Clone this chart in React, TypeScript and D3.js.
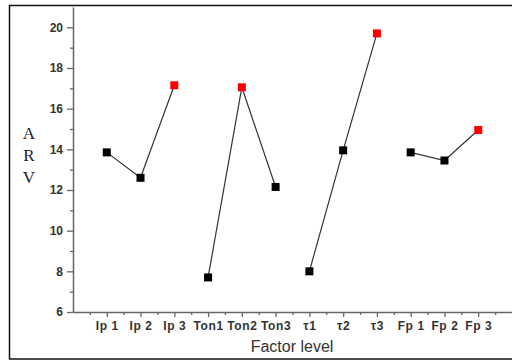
import React, { useEffect, useRef } from 'react'
import * as d3 from 'd3'

// factor levels along the x axis, in plotting order
const categories = ['Ip 1', 'Ip 2', 'Ip 3', 'Ton1', 'Ton2', 'Ton3', 'τ1', 'τ2', 'τ3', 'Fp 1', 'Fp 2', 'Fp 3']
// mean ARV at each level
const arv = [13.85, 12.6, 17.15, 7.7, 17.05, 12.15, 8.0, 13.95, 19.7, 13.85, 13.45, 14.95]
// which factor each level belongs to
const factors = ['Ip', 'Ip', 'Ip', 'Ton', 'Ton', 'Ton', 'tau', 'tau', 'tau', 'Fp', 'Fp', 'Fp']
const yTicks = [6, 8, 10, 12, 14, 16, 18, 20]

const W = 512
const H = 362

function App () {
  const ref = useRef<SVGSVGElement>(null)

  useEffect(() => {
    const svg = d3.select(ref.current)
    svg.selectAll('*').remove()

    const x = d3.scaleLinear().domain([0, 13]).range([73, 512])
    const y = d3.scaleLinear().domain([6, 21]).range([312, 7])

    // outer frame (right side cut off in the original)
    svg.append('rect')
      .attr('x', 9.5).attr('y', 5.5)
      .attr('width', 520).attr('height', 353.5)
      .attr('fill', 'none').attr('stroke', '#111').attr('stroke-width', 1.5)

    const axisColor = '#666'

    // y axis: minor ticks first, then major with labels
    const yMinor = svg.append('g').attr('transform', 'translate(' + x(0) + ',0)')
      .call(d3.axisLeft(y).tickValues(d3.range(7, 21, 2)).tickSize(3).tickFormat(() => ''))
    yMinor.select('.domain').remove()
    const yAxis = svg.append('g').attr('transform', 'translate(' + x(0) + ',0)')
      .call(d3.axisLeft(y).tickValues(yTicks).tickSize(6).tickPadding(4).tickSizeOuter(0))

    // x axis
    const xMinor = svg.append('g').attr('transform', 'translate(0,' + y(6) + ')')
      .call(d3.axisBottom(x).tickValues(d3.range(0.5, 13, 1)).tickSize(3).tickFormat(() => ''))
    xMinor.select('.domain').remove()
    const xAxis = svg.append('g').attr('transform', 'translate(0,' + y(6) + ')')
      .call(d3.axisBottom(x).tickValues(d3.range(1, 13)).tickSize(5).tickPadding(4).tickSizeOuter(0)
        .tickFormat((d) => categories[(d as number) - 1]))

    for (const g of [yMinor, yAxis, xMinor, xAxis]) {
      g.selectAll('line').attr('stroke', axisColor).attr('stroke-width', 1.3)
      g.selectAll('.domain').attr('stroke', axisColor).attr('stroke-width', 1.5)
      g.selectAll('text')
        .attr('fill', '#333')
        .style('font-family', 'Arial, "Liberation Sans", sans-serif')
        .style('font-size', '12px')
        .style('font-weight', 'bold')
    }
    xAxis.selectAll('text').style('letter-spacing', '0.6px')

    // lines within each factor
    const line = d3.line<number>().x((i) => x(i + 1)).y((i) => y(arv[i]))
    const groups = d3.groups(d3.range(arv.length), (i) => factors[i])
    svg.append('g').selectAll('path')
      .data(groups)
      .enter().append('path')
      .attr('d', (d) => line(d[1]))
      .attr('fill', 'none')
      .attr('stroke', '#333')
      .attr('stroke-width', 1.2)

    // markers, best level of each factor in red
    const s = 8
    svg.append('g').selectAll('rect')
      .data(d3.range(arv.length))
      .enter().append('rect')
      .attr('x', (i) => x(i + 1) - s / 2)
      .attr('y', (i) => y(arv[i]) - s / 2)
      .attr('width', s).attr('height', s)
      .attr('fill', (i) => {
        const members = groups.find((g) => g[0] === factors[i])![1]
        return arv[i] === d3.max(members, (j) => arv[j]) ? '#ff0000' : '#000'
      })

    // axis titles
    svg.append('text')
      .attr('x', 292).attr('y', 352)
      .attr('text-anchor', 'middle')
      .attr('fill', '#333')
      .style('font-family', 'Arial, "Liberation Sans", sans-serif')
      .style('font-size', '16px')
      .text('Factor level')

    const yTitle = ['A', 'R', 'V']
    svg.append('g').selectAll('text')
      .data(yTitle)
      .enter().append('text')
      .attr('x', 29).attr('y', (d, i) => 139 + i * 22)
      .attr('text-anchor', 'middle')
      .attr('fill', '#1a1a2e')
      .style('font-family', '"Liberation Serif", "Times New Roman", serif')
      .style('font-size', '17px')
      .text((d) => d)
  }, [])

  return (
    <div style={{ position: 'fixed', left: 0, top: 0 }}>
      <svg ref={ref} width={W} height={H} style={{ display: 'block', background: '#fff' }} />
    </div>
  )
}

export default App
